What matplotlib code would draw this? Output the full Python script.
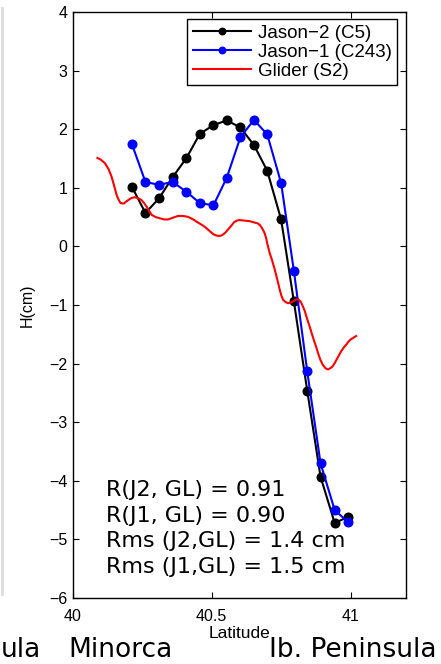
import matplotlib
matplotlib.use("Agg")
import matplotlib.pyplot as plt
from matplotlib.lines import Line2D

# ---- data ----
sat_lat = [40.212, 40.261, 40.310, 40.359, 40.409, 40.457, 40.506, 40.554, 40.603,
           40.652, 40.700, 40.750, 40.796, 40.844, 40.892, 40.943, 40.990]
jason2 = [1.02, 0.57, 0.82, 1.18, 1.51, 1.92, 2.07, 2.15, 2.03,
          1.73, 1.29, 0.46, -0.94, -2.46, -3.93, -4.72, -4.62]
jason1 = [1.75, 1.10, 1.05, 1.10, 0.93, 0.74, 0.70, 1.17, 1.86,
          2.16, 1.91, 1.08, -0.42, -2.13, -3.70, -4.50, -4.70]

glider_lat = [40.088, 40.100, 40.115, 40.128, 40.139, 40.148, 40.157, 40.164, 40.171, 40.182,
              40.193, 40.208, 40.223, 40.236, 40.247, 40.256, 40.265, 40.274, 40.283, 40.298,
              40.313, 40.328, 40.343, 40.360, 40.379, 40.394, 40.409, 40.421, 40.433, 40.446,
              40.460, 40.470, 40.481, 40.493, 40.505, 40.514, 40.523, 40.532, 40.540, 40.550,
              40.559, 40.570, 40.580, 40.590, 40.600, 40.618, 40.637, 40.652, 40.667, 40.674,
              40.680, 40.686, 40.691, 40.696, 40.700, 40.705, 40.709, 40.715, 40.720, 40.725,
              40.730, 40.738, 40.745, 40.751, 40.757, 40.766, 40.775, 40.784, 40.793, 40.802,
              40.811, 40.820, 40.829, 40.835, 40.840, 40.846, 40.853, 40.860, 40.868, 40.876,
              40.883, 40.891, 40.900, 40.910, 40.919, 40.927, 40.935, 40.942, 40.949, 40.957,
              40.965, 40.975, 40.984, 40.992, 41.000, 41.010, 41.020]
glider = [1.51, 1.48, 1.42, 1.32, 1.19, 1.04, 0.88, 0.80, 0.74, 0.73,
          0.77, 0.82, 0.84, 0.82, 0.79, 0.74, 0.68, 0.61, 0.54, 0.50,
          0.48, 0.46, 0.46, 0.49, 0.52, 0.52, 0.51, 0.49, 0.46, 0.42,
          0.38, 0.35, 0.31, 0.26, 0.21, 0.19, 0.18, 0.18, 0.20, 0.24,
          0.29, 0.35, 0.41, 0.44, 0.45, 0.44, 0.43, 0.41, 0.39, 0.36,
          0.32, 0.27, 0.22, 0.14, 0.05, -0.04, -0.12, -0.20, -0.28, -0.36,
          -0.45, -0.60, -0.74, -0.84, -0.91, -0.95, -0.97, -0.96, -0.94, -0.91,
          -0.90, -0.94, -1.03, -1.10, -1.18, -1.27, -1.37, -1.48, -1.60, -1.71,
          -1.82, -1.93, -2.02, -2.08, -2.10, -2.08, -2.05, -2.00, -1.94, -1.87,
          -1.80, -1.73, -1.68, -1.63, -1.59, -1.56, -1.53]

legend_labels = ["Jason\u22122 (C5)", "Jason\u22121 (C243)", "Glider (S2)"]
stats_lines = ["R(J2, GL) = 0.91", "R(J1, GL) = 0.90",
               "Rms (J2,GL) = 1.4 cm", "Rms (J1,GL) = 1.5 cm"]
stats_y = [-4.26, -4.70, -5.135, -5.57]
xticks = [40, 40.5, 41]
xticklabels = ["40", "40.5", "41"]
yticks = [-6, -5, -4, -3, -2, -1, 0, 1, 2, 3, 4]
bottom_labels = ["ula", "Minorca", "Ib. Peninsula"]

plt.rcParams['font.family'] = ['Liberation Sans', 'DejaVu Sans']
plt.rcParams['axes.unicode_minus'] = True

W, H = 441, 664
fig = plt.figure(figsize=(W / 100, H / 100), dpi=100)
ax = fig.add_axes([73 / W, 1 - 598 / H, (406 - 73) / W, (598 - 12) / H])

ax.plot(sat_lat, jason2, '-o', color='black', lw=1.5, ms=6.2, label=legend_labels[0])
ax.plot(sat_lat, jason1, '-o', color='#0000ff', lw=1.5, ms=6.2, label=legend_labels[1])
ax.plot(glider_lat, glider, '-', color='#ff0000', lw=1.5, label=legend_labels[2])

ax.set_xlim(40, 41.2)
ax.set_ylim(-6, 4)
ax.set_xticks(xticks)
ax.set_xticklabels(xticklabels)
ax.set_yticks(yticks)
ax.set_yticklabels([("\u2212" + str(-v)) if v < 0 else str(v) for v in yticks])
ax.tick_params(direction='in', length=4, width=0.8, top=True, right=True,
               labelsize=11.5, colors='black')
ax.tick_params(axis='x', pad=8)
ax.tick_params(axis='y', pad=4)
for s in ax.spines.values():
    s.set_linewidth(1.0)
    s.set_color('black')

ax.set_xlabel("Latitude", fontsize=12.5, labelpad=1)
ax.set_ylabel("H(cm)", fontsize=11.5, labelpad=10)

leg = ax.legend(loc='upper right', bbox_to_anchor=(0.973, 0.988), fontsize=13.5,
                handlelength=3.1, handletextpad=0.35, borderaxespad=0.0,
                borderpad=0.3, labelspacing=0.1, fancybox=False, framealpha=1,
                edgecolor='black', markerscale=0.75)
leg.get_frame().set_linewidth(1.0)

for txt, yy in zip(stats_lines, stats_y):
    ax.text(40.12, yy, txt, fontsize=16, va='baseline', ha='left',
            family=['DejaVu Sans'])

ybot = 0.6 / H
fig.text(1 / W, ybot, bottom_labels[0], fontsize=19, ha='left', va='bottom',
         family=['DejaVu Sans'])
fig.text(68 / W, ybot, bottom_labels[1], fontsize=19, ha='left', va='bottom',
         family=['DejaVu Sans'])
fig.text(269 / W, ybot, bottom_labels[2], fontsize=19, ha='left', va='bottom',
         family=['DejaVu Sans'])

fig.add_artist(Line2D([2 / W, 2 / W], [1 - 594 / H, 1 - 8 / H], color='#dcdcdc', lw=2,
                      transform=fig.transFigure))

fig.savefig("out.png", dpi=100)
